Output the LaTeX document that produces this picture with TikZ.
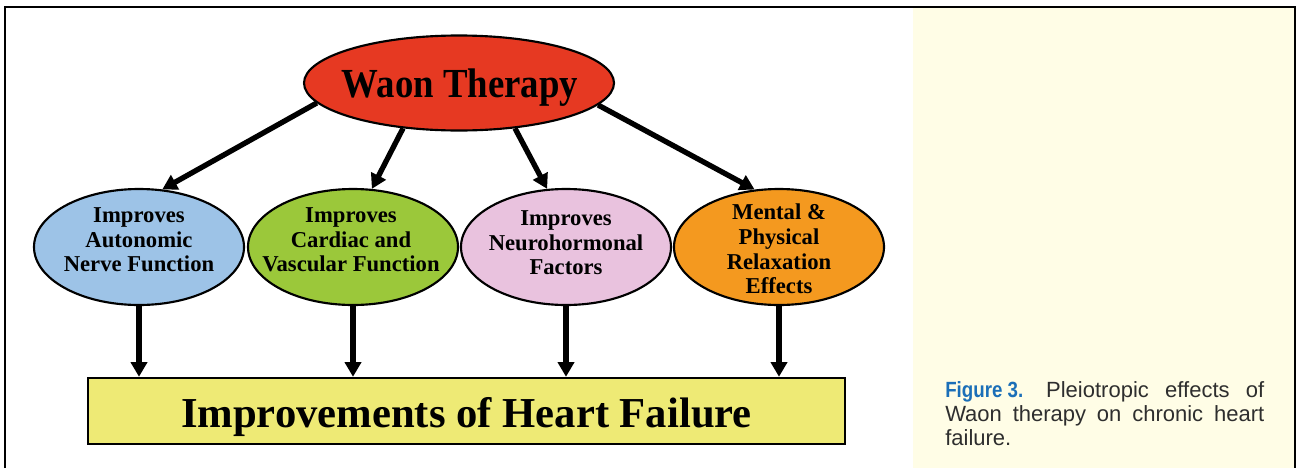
\documentclass[tikz,border=0pt]{standalone}
\usepackage{fontspec}
\setmainfont{Liberation Serif}
\newfontfamily\capsans{Liberation Sans}
\usetikzlibrary{shapes.geometric,arrows.meta}
\definecolor{cred}{HTML}{E63922}
\definecolor{cblue}{HTML}{9DC3E7}
\definecolor{cgreen}{HTML}{9BC83A}
\definecolor{cpink}{HTML}{E9C2DE}
\definecolor{corange}{HTML}{F4991F}
\definecolor{cbox}{HTML}{EEEA75}
\definecolor{cpanel}{HTML}{FFFDE6}
\definecolor{figblue}{HTML}{1B6FB8}
\definecolor{capgray}{HTML}{2E2E2E}
\begin{document}
\begin{tikzpicture}[x=0.75pt,y=-0.75pt,
  ell/.style={ellipse,draw=black,line width=1.6pt,minimum width=157.5pt,minimum height=87pt,inner sep=0pt},
  etext/.style={align=center,font=\fontsize{17}{18.4}\selectfont\bfseries,inner sep=0pt},
  arr/.style={line width=4pt,-{Triangle[length=11pt,width=12pt]}},
  captext/.style={anchor=base west,inner sep=0pt,font=\capsans\fontsize{16.5}{18}\selectfont,text=capgray}
]
\useasboundingbox (0,0) rectangle (1298,468);
\fill[cpanel] (913,7) rectangle (1295,468);
\draw[line width=1.5pt] (5,468) -- (5,7) -- (1295,7) -- (1295,468);

% top
\node[ell,fill=cred,minimum width=232.5pt,minimum height=71.25pt] (waon) at (459,83) {};
\node[anchor=base,font=\fontsize{31}{31}\selectfont\bfseries,inner sep=0pt] (waont) at (460,97) {\scalebox{0.89}[1]{Waon Therapy}};

% middle ellipses
\node[ell,fill=cblue] (blue) at (139,247) {};
\node[ell,fill=cgreen] (green) at (353,247) {};
\node[ell,fill=cpink] (pink) at (566,247) {};
\node[ell,fill=corange] (orange) at (779,247) {};

\node[etext] (bluet) at (139,240) {Improves\\Autonomic\\Nerve Function};
\node[etext] (greent) at (351,240) {Improves\\Cardiac and\\Vascular Function};
\node[etext] (pinkt) at (566,243) {Improves\\Neurohormonal\\Factors};
\node[etext] (oranget) at (779,249) {Mental \&\\Physical\\Relaxation\\Effects};

% bottom box
\node[draw,line width=1.8pt,fill=cbox,minimum width=567.75pt,minimum height=49.5pt,inner sep=0pt] (hf) at (466.5,411) {};
\node[anchor=base,font=\fontsize{32}{32}\selectfont\bfseries,inner sep=0pt] (hft) at (466.5,427) {Improvements of Heart Failure};

% arrows
\draw[arr] (waon.188.5) -- (blue.68);
\draw[arr] (waon.219) -- (green.72);
\draw[arr] (waon.321) -- (pink.108);
\draw[arr] (waon.351.5) -- (orange.113);

\draw[arr] (blue.south) -- (blue.south |- hf.north);
\draw[arr] (green.south) -- (green.south |- hf.north);
\draw[arr] (pink.south) -- (pink.south |- hf.north);
\draw[arr] (orange.south) -- (orange.south |- hf.north);

% caption
\node[captext] (cap1) at (945,397) {\makebox[239.25pt][s]{\textcolor{figblue}{\fontsize{16.5}{18}\selectfont\bfseries\scalebox{0.85}[1]{Figure 3.}}\hspace{5pt} Pleiotropic effects of}};
\node[captext] (cap2) at (945,421) {\makebox[239.25pt][s]{Waon therapy on chronic heart}};
\node[captext] (cap3) at (945,445) {failure.};
\end{tikzpicture}
\end{document}
